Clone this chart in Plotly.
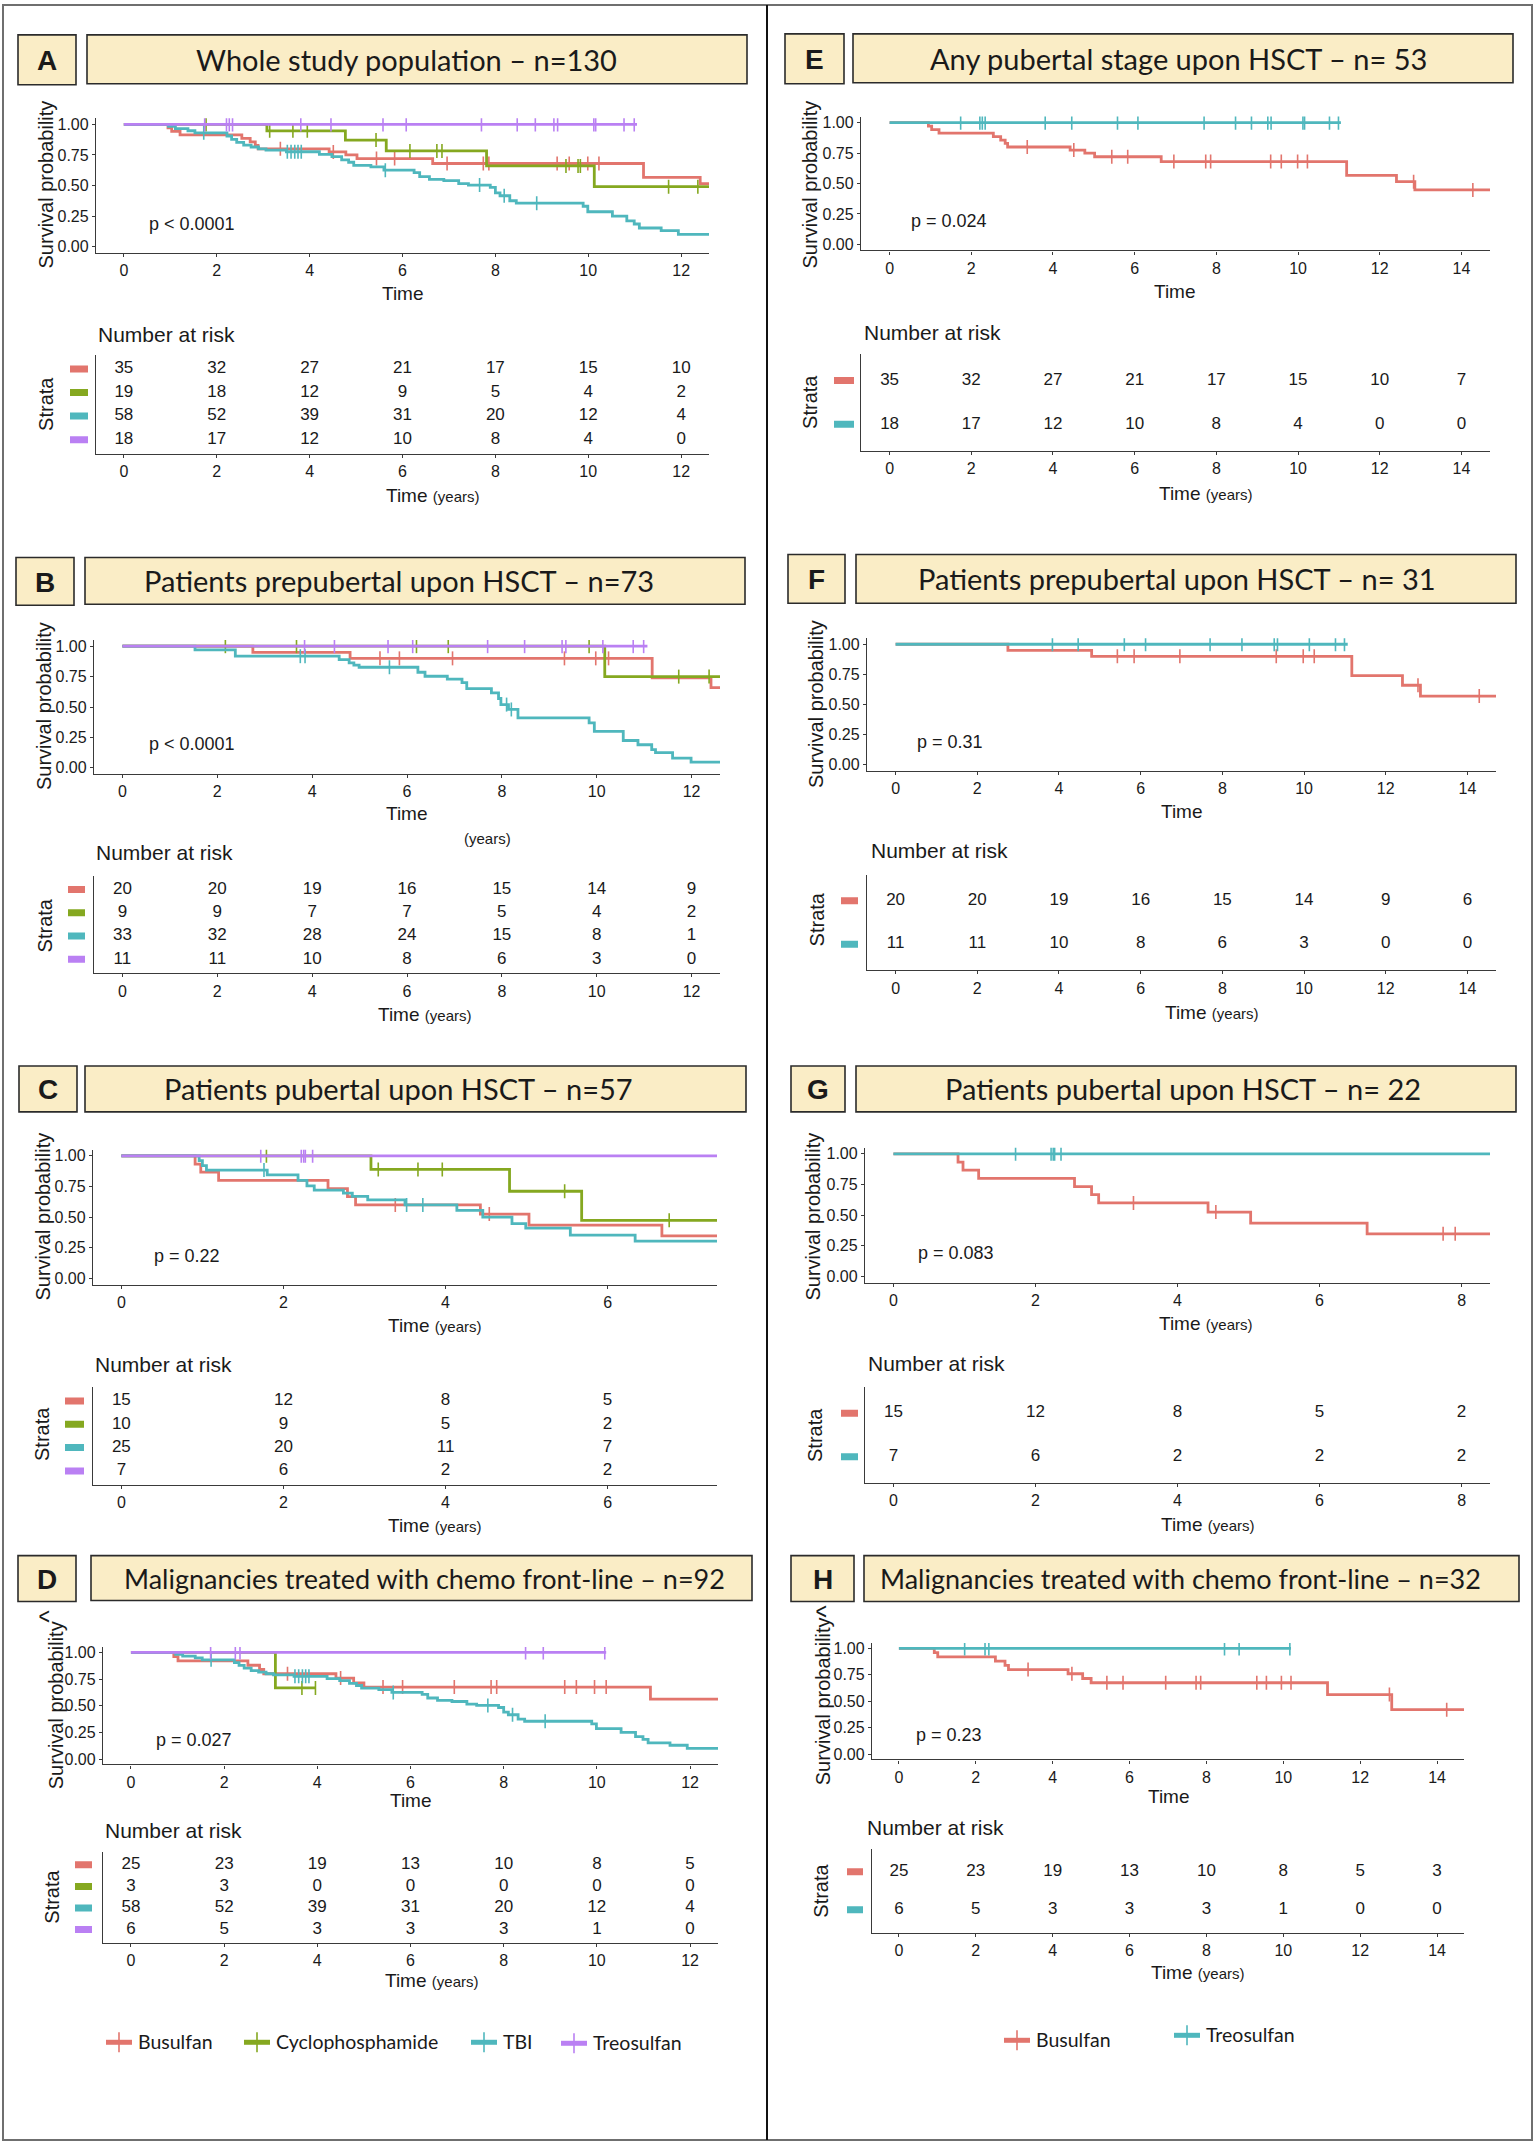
import plotly.graph_objects as go

W, H = 1535, 2145
ARIAL = "Liberation Sans, Arial, Helvetica, sans-serif"
CAL = "Lato, Carlito, Calibri, sans-serif"
INK = "#1a1a1a"
AX = "#3a3a3a"

RED, GREEN, TEAL, PURPLE = "#E2756D", "#85A820", "#4FB7BD", "#BA80F3"
COL4 = {"Busulfan": RED, "Cyclophosphamide": GREEN, "TBI": TEAL, "Treosulfan": PURPLE}
COL2 = {"Busulfan": RED, "Treosulfan": TEAL}

strata4 = ["Busulfan", "Cyclophosphamide", "TBI", "Treosulfan"]
strata2 = ["Busulfan", "Treosulfan"]

# ---------------- Kaplan-Meier data ----------------
# whole population
bu_all_t = [0, 0.95, 1.03, 1.21, 2.54, 2.72, 2.83, 2.89, 4.42, 4.78, 5.02, 6.65, 11.19, 12.41, 12.86]
bu_all_s = [1.0, 0.971, 0.943, 0.914, 0.885, 0.857, 0.829, 0.800, 0.775, 0.750, 0.720, 0.680, 0.567, 0.515, 0.447]
bu_all_c = [3.37, 4.51, 5.44, 5.83, 6.96, 7.74, 7.86, 9.33, 9.59, 9.99, 10.23, 12.83, 14.28]
bu_all_end = 14.7

cy_all_t = [0, 3.08, 4.77, 5.65, 7.81, 10.13]
cy_all_s = [1.0, 0.947, 0.872, 0.783, 0.660, 0.490]
cy_all_c = [1.77, 3.14, 3.64, 3.95, 5.43, 6.16, 6.74, 6.85, 9.52, 9.78, 9.83, 11.73, 12.36]
cy_all_end = 12.7

tbi_all_t = [0, 0.96, 1.11, 1.38, 1.53, 2.22, 2.32, 2.43, 2.58, 2.74, 2.90, 3.06, 3.50, 4.21, 4.48,
             4.69, 4.84, 4.95, 5.32, 5.60, 6.25, 6.37, 6.58, 6.89, 7.21, 7.42, 7.89, 8.00, 8.10, 8.31,
             8.45, 9.89, 9.99, 10.52, 10.83, 10.99, 11.10, 11.57, 11.94]
tbi_all_s = [1.0, 0.983, 0.966, 0.948, 0.931, 0.905, 0.878, 0.853, 0.830, 0.815, 0.800, 0.790, 0.776, 0.755, 0.736,
             0.710, 0.690, 0.665, 0.652, 0.625, 0.606, 0.573, 0.550, 0.540, 0.516, 0.503, 0.484, 0.440, 0.416, 0.375,
             0.355, 0.330, 0.285, 0.250, 0.210, 0.185, 0.152, 0.130, 0.100]
tbi_all_c = [1.72, 3.52, 3.60, 3.68, 3.75, 3.82, 5.63, 7.66, 8.19, 8.89]
tbi_all_end = 12.7

tr_all_t = [0]
tr_all_s = [1.0]
tr_all_c = [1.74, 2.21, 2.27, 2.34, 3.81, 4.46, 5.58, 6.08, 7.70, 8.47, 8.86, 9.26, 9.34, 10.12, 10.16, 10.77, 10.99]
tr_all_end = 11.05

# prepubertal
bu_pre_t = [0, 2.75, 4.80, 11.17, 12.41, 12.85]
bu_pre_s = [1.0, 0.950, 0.900, 0.740, 0.660, 0.570]
bu_pre_c = [5.43, 5.84, 6.96, 9.32, 9.98, 10.25, 12.79, 14.29]
bu_pre_end = 14.7

cy_pre_t = [0, 10.17]
cy_pre_s = [1.0, 0.750]
cy_pre_c = [2.17, 3.67, 6.20, 6.87, 9.84, 11.73, 12.37]
cy_pre_end = 12.7

tbi_pre_t = [0, 1.53, 2.38, 4.57, 4.78, 4.88, 4.99, 6.23, 6.38, 6.85, 7.16, 7.26, 7.78, 7.93, 7.98,
             8.14, 8.34, 9.84, 9.95, 10.56, 10.87, 11.16, 11.24, 11.60, 11.99]
tbi_pre_s = [1.0, 0.970, 0.918, 0.890, 0.863, 0.844, 0.827, 0.786, 0.753, 0.730, 0.700, 0.652, 0.616, 0.570, 0.520,
             0.480, 0.410, 0.370, 0.300, 0.225, 0.190, 0.150, 0.125, 0.080, 0.047]
tbi_pre_c = [3.75, 3.85, 5.63, 8.10, 8.20]
tbi_pre_end = 12.7

tr_pre_t = [0]
tr_pre_s = [1.0]
tr_pre_c = [3.84, 4.47, 5.60, 6.12, 7.70, 8.48, 9.27, 9.35, 10.13, 10.77, 10.99]
tr_pre_end = 11.07

# pubertal
bu_pub_t = [0, 0.91, 0.98, 1.20, 2.55, 2.79, 2.89, 4.43, 5.03, 6.67]
bu_pub_s = [1.0, 0.933, 0.867, 0.800, 0.733, 0.667, 0.600, 0.525, 0.435, 0.348]
bu_pub_c = [3.38, 4.54, 7.74, 7.91]
bu_pub_end = 8.5

cy_pub_t = [0, 3.08, 4.79, 5.68]
cy_pub_s = [1.0, 0.889, 0.711, 0.474]
cy_pub_c = [1.79, 3.17, 3.66, 3.96, 5.47, 6.76]
cy_pub_end = 7.5

tbi_pub_t = [0, 0.96, 1.00, 1.05, 1.80, 2.18, 2.29, 2.38, 2.74, 2.85, 3.04, 3.50, 4.14, 4.46, 4.82, 4.99, 5.54, 6.34]
tbi_pub_s = [1.0, 0.960, 0.920, 0.884, 0.845, 0.800, 0.755, 0.720, 0.695, 0.670, 0.640, 0.600, 0.555, 0.500, 0.447,
             0.410, 0.353, 0.305]
tbi_pub_c = [1.76, 3.52, 3.72]
tbi_pub_end = 7.5

tr_pub_t = [0]
tr_pub_s = [1.0]
tr_pub_c = [1.72, 2.22, 2.25, 2.27, 2.36]
tr_pub_end = 8.5

# malignancies treated with chemo front-line
bu_ch_t = [0, 0.92, 1.01, 2.51, 2.76, 2.85, 4.40, 4.78, 5.00, 11.15, 12.82]
bu_ch_s = [1.0, 0.960, 0.920, 0.880, 0.840, 0.800, 0.760, 0.715, 0.675, 0.563, 0.420]
bu_ch_c = [3.36, 4.50, 5.41, 5.83, 6.94, 7.73, 7.85, 9.31, 9.56, 9.95, 10.20, 12.76, 14.25]
bu_ch_end = 14.7

cy_ch_t = [0, 3.10]
cy_ch_s = [1.0, 0.667]
cy_ch_c = [3.67, 3.96]
cy_ch_end = 3.96

tr_ch_t = [0]
tr_ch_s = [1.0]
tr_ch_c = [1.71, 2.24, 2.34, 8.47, 8.85, 10.17]
tr_ch_end = 10.2

# ---------------- numbers at risk ----------------
rt_12 = [0, 2, 4, 6, 8, 10, 12]
rt_14 = [0, 2, 4, 6, 8, 10, 12, 14]
rt_6 = [0, 2, 4, 6]
rt_8 = [0, 2, 4, 6, 8]

risk_A = [[35, 32, 27, 21, 17, 15, 10], [19, 18, 12, 9, 5, 4, 2], [58, 52, 39, 31, 20, 12, 4], [18, 17, 12, 10, 8, 4, 0]]
risk_B = [[20, 20, 19, 16, 15, 14, 9], [9, 9, 7, 7, 5, 4, 2], [33, 32, 28, 24, 15, 8, 1], [11, 11, 10, 8, 6, 3, 0]]
risk_C = [[15, 12, 8, 5], [10, 9, 5, 2], [25, 20, 11, 7], [7, 6, 2, 2]]
risk_D = [[25, 23, 19, 13, 10, 8, 5], [3, 3, 0, 0, 0, 0, 0], [58, 52, 39, 31, 20, 12, 4], [6, 5, 3, 3, 3, 1, 0]]
risk_E = [[35, 32, 27, 21, 17, 15, 10, 7], [18, 17, 12, 10, 8, 4, 0, 0]]
risk_F = [[20, 20, 19, 16, 15, 14, 9, 6], [11, 11, 10, 8, 6, 3, 0, 0]]
risk_G = [[15, 12, 8, 5, 2], [7, 6, 2, 2, 2]]
risk_H = [[25, 23, 19, 13, 10, 8, 5, 3], [6, 5, 3, 3, 3, 1, 0, 0]]

titles = {
    "A": "Whole study population – n=130",
    "B": "Patients prepubertal upon HSCT – n=73",
    "C": "Patients pubertal upon HSCT – n=57",
    "D": "Malignancies treated with chemo front-line – n=92",
    "E": "Any pubertal stage upon HSCT – n= 53",
    "F": "Patients prepubertal upon HSCT – n= 31",
    "G": "Patients pubertal upon HSCT – n= 22",
    "H": "Malignancies treated with chemo front-line – n=32",
}
pvals = {"A": "p < 0.0001", "B": "p < 0.0001", "C": "p = 0.22", "D": "p = 0.027",
         "E": "p = 0.024", "F": "p = 0.31", "G": "p = 0.083", "H": "p = 0.23"}

TIME_Y = "Time <span style='font-size:15px'>(years)</span>"

panels = [
    dict(letter="A", tsize=29, xmax=12, rtimes=rt_12, risk=risk_A, strata=strata4, col=COL4,
         curves=[(bu_all_t, bu_all_s, bu_all_c, bu_all_end), (cy_all_t, cy_all_s, cy_all_c, cy_all_end),
                 (tbi_all_t, tbi_all_s, tbi_all_c, tbi_all_end), (tr_all_t, tr_all_s, tr_all_c, tr_all_end)],
         km=(96, 709, 115.6, 250.4), tbl=(353, 452), lbox=(18, 76, 32, 82), tbox=(87, 747, 32, 81), tcx=406,
         p=(147, 222), time=(403, 291, "Time"), ytl=(46, 182), nar=(96, 332), st=(46, 402), rect=(70, 88),
         tt=(433, 494)),
    dict(letter="E", tsize=29, xmax=14, rtimes=rt_14, risk=risk_E, strata=strata2, col=COL2,
         curves=[(bu_all_t, bu_all_s, bu_all_c, bu_all_end), (tr_all_t, tr_all_s, tr_all_c, tr_all_end)],
         km=(861, 1490, 113.9, 248.1), tbl=(352, 449), lbox=(785, 844, 31, 81), tbox=(853, 1513, 31, 80), tcx=1178,
         p=(909, 219), time=(1175, 289, "Time"), ytl=(810, 182), nar=(862, 330), st=(810, 400), rect=(834, 854),
         tt=(1205, 492)),
    dict(letter="B", tsize=29, xmax=12, rtimes=rt_12, risk=risk_B, strata=strata4, col=COL4,
         curves=[(bu_pre_t, bu_pre_s, bu_pre_c, bu_pre_end), (cy_pre_t, cy_pre_s, cy_pre_c, cy_pre_end),
                 (tbi_pre_t, tbi_pre_s, tbi_pre_c, tbi_pre_end), (tr_pre_t, tr_pre_s, tr_pre_c, tr_pre_end)],
         km=(94, 720, 638.9, 773.1), tbl=(875, 973), lbox=(16, 74, 556, 604), tbox=(85, 745, 556, 603), tcx=399,
         p=(147, 743), time=(407, 813, "Time"), ytl=(44, 705), nar=(94, 852), st=(45, 925), rect=(68, 85),
         tt=(424, 1014)),
    dict(letter="F", tsize=29, xmax=14, rtimes=rt_14, risk=risk_F, strata=strata2, col=COL2,
         curves=[(bu_pre_t, bu_pre_s, bu_pre_c, bu_pre_end), (tr_pre_t, tr_pre_s, tr_pre_c, tr_pre_end)],
         km=(867, 1496, 637, 770), tbl=(874, 970), lbox=(788, 845, 553, 602), tbox=(856, 1516, 553, 602), tcx=1177,
         p=(915, 741), time=(1182, 811, "Time"), ytl=(816, 703), nar=(869, 850), st=(817, 919), rect=(841, 858),
         tt=(1211, 1012)),
    dict(letter="C", tsize=29, xmax=7, rtimes=rt_6, risk=risk_C, strata=strata4, col=COL4,
         curves=[(bu_pub_t, bu_pub_s, bu_pub_c, bu_pub_end), (cy_pub_t, cy_pub_s, cy_pub_c, cy_pub_end),
                 (tbi_pub_t, tbi_pub_s, tbi_pub_c, tbi_pub_end), (tr_pub_t, tr_pub_s, tr_pub_c, tr_pub_end)],
         km=(93, 717, 1149.9, 1285.2), tbl=(1388, 1486), lbox=(19, 77, 1066, 1112), tbox=(85, 746, 1066, 1112),
         tcx=398, p=(152, 1257), time=(434, 1326, TIME_Y), ytl=(43, 1217), nar=(93, 1365), st=(42, 1435),
         rect=(65, 84), tt=(434, 1527)),
    dict(letter="G", tsize=29, xmax=8, rtimes=rt_8, risk=risk_G, strata=strata2, col=COL2,
         curves=[(bu_pub_t, bu_pub_s, bu_pub_c, bu_pub_end), (tr_pub_t, tr_pub_s, tr_pub_c, tr_pub_end)],
         km=(865, 1490, 1147.9, 1283.2), tbl=(1388, 1484), lbox=(791, 845, 1066, 1112), tbox=(856, 1516, 1066, 1112),
         tcx=1183, p=(916, 1254), time=(1205, 1324, TIME_Y), ytl=(813, 1217), nar=(866, 1364), st=(815, 1436),
         rect=(841, 858), tt=(1207, 1526)),
    dict(letter="D", tsize=27, xmax=12, rtimes=rt_12, risk=risk_D, strata=strata4, col=COL4,
         curves=[(bu_ch_t, bu_ch_s, bu_ch_c, bu_ch_end), (cy_ch_t, cy_ch_s, cy_ch_c, cy_ch_end),
                 (tbi_all_t, tbi_all_s, tbi_all_c, tbi_all_end), (tr_ch_t, tr_ch_s, tr_ch_c, tr_ch_end)],
         km=(103, 718, 1648.7, 1766.4), tbl=(1854, 1945), lbox=(18, 76, 1557, 1603), tbox=(91, 752, 1557, 1602),
         tcx=424, p=(154, 1742), time=(411, 1803, "Time"), ytl=(56, 1707), nar=(103, 1833), st=(52, 1899),
         rect=(75, 92), tt=(431, 1983), caret=(49, 1617)),
    dict(letter="H", tsize=27, xmax=14, rtimes=rt_14, risk=risk_H, strata=strata2, col=COL2,
         curves=[(bu_ch_t, bu_ch_s, bu_ch_c, bu_ch_end), (tr_ch_t, tr_ch_s, tr_ch_c, tr_ch_end)],
         km=(872, 1464, 1644.7, 1761.3), tbl=(1851, 1935), lbox=(791, 854, 1557, 1603), tbox=(864, 1519, 1557, 1603),
         tcx=1180, p=(914, 1737), time=(1169, 1799, "Time"), ytl=(823, 1703), nar=(865, 1830), st=(821, 1893),
         rect=(847, 863), tt=(1197, 1975), caret=(826, 1612)),
]


def fx(px):
    return px / W


def fy(py):
    return 1 - py / H


def step_xy(t, s, end):
    return list(t) + [end], list(s) + [s[-1]]


def surv_at(t, s, c):
    out = []
    for ci in c:
        v = s[0]
        for ti, si in zip(t, s):
            if ti <= ci:
                v = si
        out.append(v)
    return out


def axname(n, letter):
    return letter if n == 1 else f"{letter}{n}"


fig = go.Figure()
annotations = []
shapes = []
layout_axes = {}


def ann(text, x, y, size, family=ARIAL, xanchor="center", yanchor="middle", angle=0, color=INK):
    annotations.append(dict(text=text, x=fx(x), y=fy(y), xref="paper", yref="paper", showarrow=False,
                            xanchor=xanchor, yanchor=yanchor, textangle=angle,
                            font=dict(family=family, size=size, color=color)))


axstyle = dict(showline=True, linecolor=AX, linewidth=1.3, ticks="outside", ticklen=3, tickwidth=1.2,
               tickcolor=AX, showgrid=False, zeroline=False,
               tickfont=dict(family=ARIAL, size=16, color=INK))

for i, p in enumerate(panels):
    nk, nt = 2 * i + 1, 2 * i + 2
    l, r, t, b = p["km"]
    xr = [-0.05 * p["xmax"], 1.05 * p["xmax"]]
    ticks = list(range(0, p["xmax"] + 1, 2))
    layout_axes[axname(nk, "xaxis")] = dict(domain=[fx(l), fx(r)], anchor=axname(nk, "y"), range=xr,
                                            tickvals=ticks, **axstyle)
    layout_axes[axname(nk, "yaxis")] = dict(domain=[fy(b), fy(t)], anchor=axname(nk, "x"), range=[-0.05, 1.05],
                                            tickvals=[0, 0.25, 0.5, 0.75, 1.0],
                                            ticktext=["0.00", "0.25", "0.50", "0.75", "1.00"], **axstyle)
    tt_, tb_ = p["tbl"]
    k = len(p["risk"])
    layout_axes[axname(nt, "xaxis")] = dict(domain=[fx(l), fx(r)], anchor=axname(nt, "y"), range=xr,
                                            tickvals=ticks, **axstyle)
    layout_axes[axname(nt, "yaxis")] = dict(domain=[fy(tb_), fy(tt_)], anchor=axname(nt, "x"),
                                            range=[0.4, k + 0.6], showticklabels=False, ticks="",
                                            showline=True, linecolor=AX, linewidth=1.3, showgrid=False,
                                            zeroline=False)
    col = p["col"]

    # curves
    for name, (ct, cs, cc, cend) in zip(p["strata"], p["curves"]):
        c = col[name]
        x, y = step_xy(ct, cs, cend)
        fig.add_trace(go.Scatter(x=x, y=y, mode="lines", line=dict(color=c, width=2.8, shape="hv"),
                                 xaxis=axname(nk, "x"), yaxis=axname(nk, "y"), showlegend=False,
                                 hoverinfo="skip"))
        fig.add_trace(go.Scatter(x=cc, y=surv_at(ct, cs, cc), mode="markers",
                                 marker=dict(symbol="line-ns", size=10, color=c,
                                             line=dict(width=1.6, color=c)),
                                 xaxis=axname(nk, "x"), yaxis=axname(nk, "y"), showlegend=False,
                                 hoverinfo="skip"))

    # risk table
    for j, (name, vals) in enumerate(zip(p["strata"], p["risk"])):
        row = k - j
        fig.add_trace(go.Scatter(x=p["rtimes"], y=[row] * len(vals), mode="text", text=[str(v) for v in vals],
                                 textposition="middle center",
                                 textfont=dict(family=ARIAL, size=17, color=INK),
                                 xaxis=axname(nt, "x"), yaxis=axname(nt, "y"), showlegend=False,
                                 hoverinfo="skip"))
        shapes.append(dict(type="rect", xref="paper", yref=axname(nt, "y"), ysizemode="pixel", yanchor=row,
                           y0=-3.5, y1=3.5, x0=fx(p["rect"][0]), x1=fx(p["rect"][1]),
                           fillcolor=col[name], line=dict(width=0)))

    # boxes
    lb = p["lbox"]
    tb = p["tbox"]
    for bx in (lb, tb):
        shapes.append(dict(type="rect", xref="paper", yref="paper", x0=fx(bx[0]), x1=fx(bx[1]),
                           y0=fy(bx[3]), y1=fy(bx[2]), fillcolor="#FAEDC6",
                           line=dict(color="#2b2b2b", width=1.6)))
    ann("<b>%s</b>" % p["letter"], (lb[0] + lb[1]) / 2, (lb[2] + lb[3]) / 2 + 1, 28)
    ann(titles[p["letter"]], p["tcx"], (tb[2] + tb[3]) / 2, p["tsize"], family=CAL)

    # texts
    ann(pvals[p["letter"]], p["p"][0], p["p"][1], 18, xanchor="left")
    ann(p["time"][2], p["time"][0], p["time"][1], 19)
    ann("Survival probability", p["ytl"][0], p["ytl"][1], 20, angle=-90)
    ann("Number at risk", p["nar"][0], p["nar"][1], 21, xanchor="left")
    ann("Strata", p["st"][0], p["st"][1], 20, angle=-90)
    ann(TIME_Y, p["tt"][0], p["tt"][1], 19)
    if "caret" in p:
        # stray caret at the end of the rotated y title (reads as "<")
        ann("^", p["caret"][0], p["caret"][1], 26, angle=-90)

# stray "(years)" label in panel B
ann("(years)", 487, 838, 15)

# legends
leg_left = [(strata4[0], 119, 2045), (strata4[1], 257, 2045), (strata4[2], 484, 2045), (strata4[3], 574, 2046)]
leg_right = [(strata2[0], 1017, 2043), (strata2[1], 1187, 2038)]
for items, cmap in ((leg_left, COL4), (leg_right, COL2)):
    for name, cx, cy in items:
        c = cmap[name]
        shapes.append(dict(type="line", xref="paper", yref="paper", x0=fx(cx - 13), x1=fx(cx + 13),
                           y0=fy(cy), y1=fy(cy), line=dict(color=c, width=5)))
        shapes.append(dict(type="line", xref="paper", yref="paper", x0=fx(cx), x1=fx(cx),
                           y0=fy(cy - 10), y1=fy(cy + 10), line=dict(color=c, width=1.6)))
        ann(name, cx + 17, cy - 1, 19.5, family=CAL, xanchor="left")

# frame and divider
shapes.append(dict(type="rect", xref="paper", yref="paper", x0=fx(3), x1=fx(1532), y0=fy(2143), y1=fy(2),
                   line=dict(color="#6f6f6f", width=2), fillcolor="rgba(0,0,0,0)"))
shapes.append(dict(type="line", xref="paper", yref="paper", x0=fx(767), x1=fx(767), y0=fy(2143), y1=fy(2),
                   line=dict(color="#111111", width=2)))

fig.update_layout(width=W, height=H, margin=dict(l=0, r=0, t=0, b=0), paper_bgcolor="white",
                  plot_bgcolor="white", showlegend=False, annotations=annotations, shapes=shapes,
                  **layout_axes)

fig.write_html("out.html", config={"displayModeBar": False},
               post_script="document.body.style.margin='0';")
